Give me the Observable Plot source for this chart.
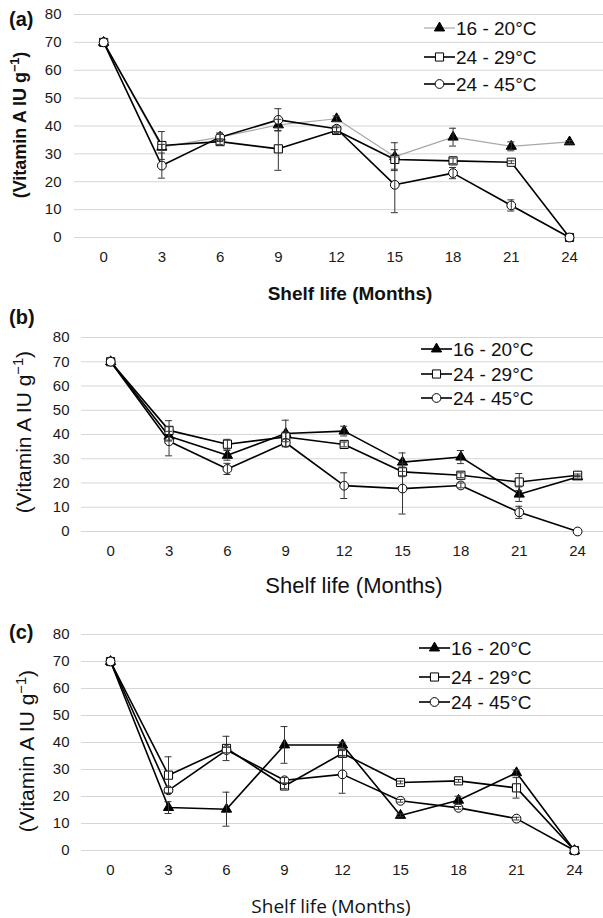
<!DOCTYPE html>
<html><head><meta charset="utf-8">
<script src="https://cdn.jsdelivr.net/npm/d3@7"></script>
<script src="https://cdn.jsdelivr.net/npm/@observablehq/plot@0.6"></script>
<style>
body{margin:0;background:#fff;}
#root{position:relative;width:603px;height:918px;overflow:hidden;background:#fff;}
#root svg{position:absolute;left:0;}
</style></head><body><div id="root"></div>
<script>
const months = [0, 3, 6, 9, 12, 15, 18, 21, 24];
const yTicks = [0, 10, 20, 30, 40, 50, 60, 70, 80];
const seriesNames = ["16 - 20°C", "24 - 29°C", "24 - 45°C"];

// Panel (a)
const a1620 = [70, 32.4, 36, 40.4, 42.6, 29, 36, 32.7, 34.3];
const a2429 = [70, 33, 34.4, 31.8, 38.4, 28, 27.5, 27, 0];
const a2445 = [70, 25.8, 36, 42.2, 39, 18.9, 23.1, 11.5, 0];
const a1620Err = [0, 1, 1.5, 2, 1, 5, 3.2, 1.6, 0.5];
const a2429Err = [0, 5, 1, 7.7, 1, 3.5, 1, 0.5, 0];
const a2445Err = [0, 4.5, 1, 4, 1, 10, 2, 2, 0];

// Panel (b)
const b1620 = [70, 39.3, 31.4, 40.4, 41.4, 28.6, 30.7, 15.4, 22.5];
const b2429 = [70, 41.7, 36, 39, 35.9, 24.6, 23.2, 20.4, 23.2];
const b2445 = [70, 37.2, 25.8, 36.6, 18.9, 17.7, 19, 7.9, 0];
const b1620Err = [0, 2, 2, 5.5, 2, 3.8, 2.7, 3, 0.5];
const b2429Err = [0, 4, 2, 2, 1, 2, 1, 3.5, 0.5];
const b2445Err = [0, 6, 2.3, 1.5, 5.3, 10.5, 1, 2.5, 0];

// Panel (c)
const c1620 = [70, 15.9, 15.3, 39.1, 39.1, 13, 18.6, 28.8, 0];
const c2429 = [70, 27.9, 37.8, 23.9, 36, 25.2, 25.8, 23.2, 0];
const c2445 = [70, 22.3, 37.2, 26, 28.2, 18.4, 15.8, 11.8, 0];
const c1620Err = [0, 2.2, 6.3, 6.8, 1, 0.5, 1.5, 1, 0];
const c2429Err = [0, 6.8, 4.5, 1, 1, 0.5, 0.5, 3.8, 0];
const c2445Err = [0, 1, 1, 1, 7, 0.5, 0.5, 0.5, 0];

const FONT = '"Liberation Sans", Arial, sans-serif';
const symbols = ["triangle", "square", "circle"];
const symbolFill = ["#000", "#fff", "#fff"];
const symbolR = [3.8, 4.6, 4.4];

function panel(cfg) {
  const root = document.getElementById("root");
  const marks = [
    Plot.ruleY(yTicks, {stroke: "#d6d6d6", strokeWidth: 1}),
    Plot.axisX({ticks: months, tickSize: 0, tickPadding: cfg.xPad, fontSize: cfg.tickFont, label: null, tickFormat: d => String(d), fill: "#1a1a1a"}),
    Plot.axisY({ticks: yTicks, tickSize: 0, tickPadding: cfg.yPad, fontSize: cfg.tickFont, label: null, fill: "#1a1a1a"})
  ];
  const sets = cfg.values.map((vals, i) => months.map((m, j) => ({x: m, y: vals[j], e: cfg.errors[i][j]})));
  sets.forEach((data, i) => {
    marks.push(Plot.line(data, {x: "x", y: "y", stroke: cfg.lineColors[i], strokeWidth: cfg.lineWidths[i]}));
  });
  sets.forEach((data, i) => {
    marks.push(Plot.dot(data, {x: "x", y: "y", symbol: () => symbols[i], r: symbolR[i], fill: symbolFill[i], stroke: "#000", strokeWidth: 1}));
  });
  sets.forEach((data, i) => {
    const eb = data.filter(d => d.e > 0.3);
    marks.push(Plot.ruleX(eb, {x: "x", y1: d => d.y - d.e, y2: d => d.y + d.e, stroke: "#333", strokeWidth: 1}));
    marks.push(Plot.ruleY(eb, {y: d => d.y + d.e, x1: d => d.x - 0.18, x2: d => d.x + 0.18, stroke: "#333", strokeWidth: 1}));
    marks.push(Plot.ruleY(eb, {y: d => d.y - d.e, x1: d => d.x - 0.18, x2: d => d.x + 0.18, stroke: "#333", strokeWidth: 1}));
  });
  const svg = Plot.plot({
    width: 603, height: cfg.height,
    marginTop: cfg.mt, marginBottom: cfg.mb, marginLeft: cfg.ml, marginRight: 0,
    x: {domain: cfg.xDomain, axis: null},
    y: {domain: [0, 80], axis: null},
    symbol: {domain: symbols, range: symbols},
    style: {fontFamily: FONT, background: "transparent", overflow: "visible"},
    marks
  });
  svg.style.top = cfg.top + "px";
  root.appendChild(svg);
  const s = d3.select(svg);
  // panel label
  s.append("text").attr("x", 9).attr("y", cfg.labelY).attr("dy", "0.35em").attr("text-anchor", "start")
    .attr("font-family", FONT).attr("font-weight", "bold").attr("font-size", 20).attr("fill", "#111").text(cfg.label);
  // y title
  const yt = s.append("text").attr("transform", `translate(${cfg.yTitle[0]},${cfg.yTitle[1]}) rotate(-90)`)
    .attr("text-anchor", "middle").attr("dy", "0.35em").attr("font-family", FONT)
    .attr("font-weight", cfg.bold ? "bold" : "normal").attr("font-size", cfg.yTitleSize).attr("fill", "#111");
  yt.append("tspan").text("(Vitamin A IU g");
  yt.append("tspan").attr("baseline-shift", "super").attr("font-size", "70%").text("−1");
  yt.append("tspan").text(")");
  // x title
  s.append("text").attr("x", cfg.xTitle[0]).attr("y", cfg.xTitle[1]).attr("dy", "0.35em").attr("text-anchor", "middle")
    .attr("font-family", cfg.xTitleFont || FONT).attr("font-weight", cfg.bold ? "bold" : "normal")
    .attr("font-size", cfg.xTitleSize).attr("fill", "#111").text("Shelf life (Months)");
  // legend
  seriesNames.forEach((name, i) => {
    const y = cfg.legendY[i], x0 = cfg.legendX;
    s.append("line").attr("x1", x0).attr("x2", x0 + 31).attr("y1", y).attr("y2", y)
      .attr("stroke", cfg.lineColors[i]).attr("stroke-width", cfg.lineWidths[i]);
    const sym = i === 0 ? d3.symbolTriangle : (i === 1 ? d3.symbolSquare : d3.symbolCircle);
    const size = Math.PI * Math.pow(symbolR[i], 2);
    s.append("path").attr("d", d3.symbol(sym, size)()).attr("transform", `translate(${x0 + 15.5},${y})`)
      .attr("fill", symbolFill[i]).attr("stroke", "#000");
    s.append("text").attr("x", x0 + 32).attr("y", y).attr("dy", "0.35em").attr("text-anchor", "start").attr("font-family", FONT)
      .attr("font-size", 19).attr("fill", "#111").text(name);
  });
}

panel({
  label: "(a)", top: 0, height: 300, mt: 14, mb: 63, ml: 74, xDomain: [-1.5, 25.75],
  values: [a1620, a2429, a2445], errors: [a1620Err, a2429Err, a2445Err],
  lineColors: ["#a8a8a8", "#000", "#000"], lineWidths: [1.2, 1.6, 1.6],
  tickFont: 15, xPad: 14, yPad: 13, bold: true,
  labelY: 19, yTitle: [20, 125], yTitleSize: 18, xTitle: [350, 293], xTitleSize: 19,
  legendX: 424, legendY: [28, 57, 84]
});
panel({
  label: "(b)", top: 300, height: 300, mt: 37, mb: 69, ml: 81, xDomain: [-1.5, 25.33],
  values: [b1620, b2429, b2445], errors: [b1620Err, b2429Err, b2445Err],
  lineColors: ["#000", "#000", "#000"], lineWidths: [1.6, 1.6, 1.6],
  tickFont: 15, xPad: 14, yPad: 12, bold: false,
  labelY: 17, yTitle: [24, 132], yTitleSize: 21, xTitle: [354, 285], xTitleSize: 22,
  legendX: 421, legendY: [49, 74, 98]
});
panel({
  label: "(c)", top: 600, height: 318, mt: 34, mb: 68, ml: 81, xDomain: [-1.5, 25.5],
  values: [c1620, c2429, c2445], errors: [c1620Err, c2429Err, c2445Err],
  lineColors: ["#000", "#000", "#000"], lineWidths: [1.6, 1.6, 1.6],
  tickFont: 15, xPad: 14, yPad: 12, bold: false,
  labelY: 32, yTitle: [27, 151], yTitleSize: 21, xTitle: [331, 306], xTitleSize: 19, xTitleFont: '"Open Sans", sans-serif',
  legendX: 419, legendY: [48, 77, 102]
});
</script></body></html>
